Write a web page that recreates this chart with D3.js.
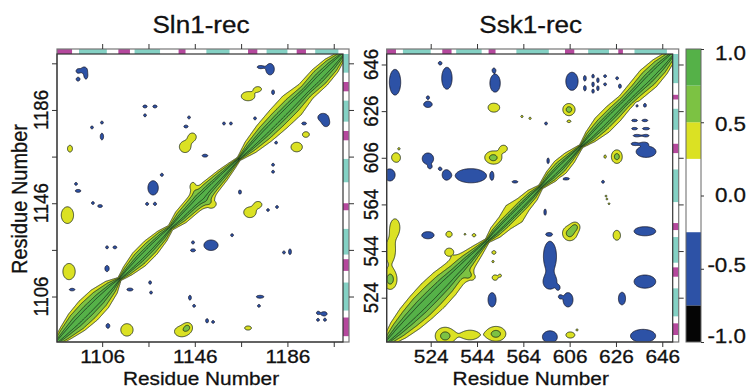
<!DOCTYPE html>
<html>
<head>
<meta charset="utf-8">
<script src="https://cdn.jsdelivr.net/npm/d3@7"></script>
<style>
  body { margin: 0; background: #fff; }
  svg { display: block; }
</style>
</head>
<body>
<svg id="chart" width="749" height="392"></svg>
<script>
// ---- data ----
// colour bands of the correlation scale
const bandEdges = [-1, -0.75, -0.25, 0.25, 0.5, 0.75, 1];
const bandColors = ["#050505", "#2d52a6", "#ffffff", "#dbe123", "#7cc243", "#55b148"];
const cbTicks = [1.0, 0.5, 0.0, -0.5, -1.0];

// Sln1 receiver
const slnTicks = [1106, 1126, 1146, 1166, 1186, 1206];
const slnTickLabels = ["1106", "", "1146", "", "1186", ""];
const slnStrands = [[1085, 1093], [1113, 1118], [1139, 1142], [1169, 1173], [1190, 1194]];
const slnHelices = [[1096, 1108], [1120, 1131], [1151, 1161], [1177, 1186], [1198, 1208]];
// half width (|i-j|) of the diagonal ridge at the 0.25 and 0.5 levels, along the diagonal
const slnDiagPos = [1086, 1090, 1095, 1100, 1105, 1110, 1113.5, 1117, 1122, 1127, 1132, 1135.5, 1140, 1146, 1152, 1158, 1162, 1165, 1170, 1176, 1182, 1188, 1194, 1200, 1205, 1210];
const slnDiagW25 = [2, 4.5, 7, 8, 7.5, 5, 1.2, 3.5, 5.5, 5.5, 4, 1.8, 4.5, 5.5, 5.5, 4, 2.5, 1.2, 4.5, 6.5, 7.5, 8, 6, 6.5, 5.5, 2.5];
const slnDiagW50 = [1.5, 3.5, 5.5, 6, 5.5, 3.5, 0.8, 2.5, 4, 4, 3, 1.2, 3.2, 4.2, 4.2, 3, 1.8, 0.8, 3, 4.5, 5, 5, 4, 5, 4.2, 1.8];
// off-diagonal patches: [residue i, residue j, spread i, spread j, peak correlation]
const slnPatches = [
  [1098.2, 1203.1, 1.3, 1.3, -0.42], [1095.6, 1202.7, 0.8, 0.8, -0.42], [1095.6, 1199.2, 0.8, 0.8, -0.42],
  [1099, 1200.5, 0.7, 1.2, -0.42], [1178.5, 1203.5, 1.8, 2.4, -0.42], [1174.2, 1204.4, 1.2, 0.6, -0.42],
  [1179.8, 1193.6, 0.6, 1.0, -0.42], [1124.5, 1187.5, 0.9, 0.6, -0.42], [1128.8, 1187.5, 0.9, 0.6, -0.42],
  [1124.5, 1183.7, 0.6, 0.6, -0.42], [1143.5, 1182.8, 0.6, 0.6, -0.42], [1142.2, 1178.9, 0.9, 0.6, -0.42],
  [1158.6, 1180.2, 0.6, 0.6, -0.42], [1161.6, 1180.2, 0.6, 0.6, -0.42], [1172, 1182.4, 0.6, 0.6, -0.42],
  [1193.2, 1180.2, 1.0, 0.6, -0.42], [1201.4, 1182.8, 2.2, 1.7, -0.42], [1202.7, 1180.2, 1.2, 1.2, -0.42],
  [1181.1, 1172, 0.6, 0.6, -0.42], [1101.6, 1178.5, 0.6, 0.6, -0.42], [1105.9, 1180.6, 0.6, 0.6, -0.42],
  [1105.9, 1174.6, 0.7, 1.4, -0.42], [1150.4, 1166.4, 1.2, 0.6, -0.42], [1131.8, 1158.2, 0.6, 0.6, -0.42],
  [1179.8, 1162.5, 0.6, 0.6, -0.42], [1179.8, 1159.5, 0.6, 0.6, -0.42], [1094.7, 1154.3, 0.6, 0.6, -0.42],
  [1095.6, 1151.3, 1.2, 0.6, -0.42], [1128, 1152.6, 2.2, 3, -0.42], [1165.5, 1150.8, 0.6, 0.9, -0.42],
  [1102, 1146.1, 0.6, 0.6, -0.42], [1105.1, 1144.8, 1.0, 0.6, -0.42], [1125.4, 1145.7, 0.6, 0.6, -0.42],
  [1128.8, 1145.7, 0.6, 0.6, -0.42], [1181.5, 1144.4, 0.6, 0.6, -0.42], [1177.6, 1143.1, 0.6, 0.6, -0.42],
  [1162.1, 1132.3, 0.6, 0.6, -0.42], [1153, 1128, 3, 2.2, -0.42], [1145.2, 1129.2, 0.6, 0.6, -0.42],
  [1145.2, 1125.8, 1.0, 0.6, -0.42], [1108.1, 1127.1, 0.6, 0.6, -0.42], [1111.5, 1127.1, 0.8, 0.6, -0.42],
  [1108.1, 1118, 0.9, 1.3, -0.42], [1184.5, 1124.9, 0.6, 0.6, -0.42], [1187.1, 1125.2, 0.6, 1.2, -0.42],
  [1093, 1109, 1.3, 0.6, -0.42], [1118, 1109, 1.3, 0.6, -0.42], [1126.7, 1112, 0.6, 0.7, -0.42],
  [1127.1, 1107.7, 0.6, 0.6, -0.42], [1143.9, 1105.5, 0.6, 1.0, -0.42], [1145.7, 1102, 0.6, 0.6, -0.42],
  [1174.2, 1105.9, 1.6, 0.6, -0.42], [1173.7, 1102, 0.6, 0.6, -0.42], [1151.3, 1095.6, 0.6, 0.9, -0.42],
  [1153.9, 1095.1, 0.6, 0.6, -0.42], [1108.5, 1093.4, 0.8, 1.0, -0.42], [1201.8, 1098.6, 1.3, 0.9, -0.42],
  [1199.2, 1096, 0.6, 0.6, -0.42], [1202.2, 1096, 0.6, 0.6, -0.42], [1199.2, 1099, 0.6, 0.6, -0.42],
  [1092.1, 1169.4, 1.1, 1.5, 0.4], [1169, 1191.9, 3, 2, 0.4], [1173.3, 1195, 1.5, 1, 0.38],
  [1141.8, 1170.2, 2.4, 2.4, 0.42], [1145, 1174.5, 1.6, 1.6, 0.4], [1190, 1170.1, 2.4, 2, 0.42],
  [1194, 1175.5, 1.5, 1.2, 0.4], [1145.2, 1153, 1.3, 2, 0.4], [1091, 1140.9, 2.6, 3.5, 0.42],
  [1169.8, 1142.1, 2.6, 2.2, 0.42], [1173.4, 1145.5, 1.5, 1.2, 0.4], [1153, 1145.7, 2.2, 1.8, 0.42],
  [1091.7, 1116.7, 2.6, 3.4, 0.42], [1116.7, 1091.7, 2.6, 2.6, 0.42], [1140.3, 1091, 3, 2.2, 0.42],
  [1143, 1093, 1.5, 1.5, 0.4], [1169, 1092.5, 1.5, 0.9, 0.4]
];

// Ssk1 receiver (numbering jumps after 564)
const sskTicks = [524, 544, 564, 584, 604, 624];
const sskTickLabels = ["524", "544", "564", "606", "626", "646"];
const sskStrands = [[504, 509], [529, 533], [549, 552], [582, 586], [605, 607]];
const sskHelices = [[512, 524], [535, 546], [561, 575], [592, 601], [612, 626]];
const sskDiagPos = [505, 510, 515, 520, 525, 530, 535, 540, 544, 548.5, 552, 556, 560, 564, 568, 571.5, 576, 580, 584, 589, 593, 598, 603, 608, 613, 618, 623, 629];
const sskDiagW25 = [3, 6.5, 8.5, 9.5, 10, 9.5, 8, 6, 4, 1.5, 4, 5, 7, 5, 4, 1.5, 4, 5, 4, 1.2, 4, 6, 6, 5, 6, 7, 6, 3];
const sskDiagW50 = [2, 4.5, 6, 7, 7, 6.5, 5, 4, 2.5, 1, 2.5, 3, 3, 3, 2.5, 1, 3, 3.5, 2.5, 0.8, 3, 4, 4, 3.5, 4, 5, 4.5, 2];
const sskPatches = [
  [508.6, 616.4, 2.4, 5.4, -0.42], [531, 618.1, 2.2, 4.6, -0.42], [528, 624.6, 0.6, 0.6, -0.42],
  [551.8, 616, 2.2, 3.8, -0.42], [551.3, 621.6, 0.5, 0.6, -0.42], [585, 616.8, 2.6, 3.8, -0.42],
  [590.6, 618.1, 0.5, 1.0, -0.42], [590.6, 613.8, 0.5, 1.0, -0.42], [594.1, 619, 0.5, 0.8, -0.42],
  [594.1, 615.5, 0.5, 1.0, -0.42], [594.1, 612.5, 0.5, 0.8, -0.42], [596.2, 617.3, 0.5, 1.0, -0.42],
  [596.2, 613.8, 0.5, 1.0, -0.42], [599.3, 619, 0.6, 0.6, -0.42], [599.3, 615.5, 0.6, 0.6, -0.42],
  [604.5, 618.1, 0.6, 0.6, -0.42], [605.7, 614.7, 0.6, 0.9, -0.42], [522.8, 606.9, 1.8, 1.3, -0.42],
  [522.8, 609.9, 0.6, 0.6, -0.42], [613, 606.5, 0.6, 0.8, -0.42], [616.5, 606.5, 0.6, 0.8, -0.42],
  [612, 600, 1.2, 0.5, -0.42], [616.5, 600, 1.2, 0.5, -0.42], [612, 596.5, 1.2, 0.5, -0.42],
  [617, 596.5, 1.5, 0.5, -0.42], [613, 593.5, 1.5, 0.5, -0.42], [617, 593.5, 1.2, 0.5, -0.42],
  [612, 590, 1.2, 0.5, -0.42], [616, 590, 1.2, 0.5, -0.42], [617, 586.6, 4.2, 2.4, -0.42],
  [522.8, 583.6, 2.4, 2.4, -0.42], [523.7, 580.1, 0.6, 0.6, -0.42], [528, 579.3, 0.6, 0.6, -0.42],
  [541.4, 576.3, 6.2, 2.8, -0.45], [530.6, 576.7, 1.3, 1.7, -0.42], [550.5, 576.3, 0.5, 1.3, -0.42],
  [506.4, 576.7, 2.2, 2.6, -0.42], [560.4, 573.7, 1.2, 0.5, -0.42], [574.7, 582.7, 0.5, 1.2, -0.42],
  [582.4, 575, 1.5, 0.5, -0.42], [573.8, 598.7, 0.6, 0.6, -0.42], [598.4, 573.7, 0.6, 0.6, -0.42],
  [573.4, 560.7, 0.5, 1.3, -0.42], [522.8, 550.8, 2.6, 1.5, -0.42], [575.1, 551.2, 1.0, 0.5, -0.42],
  [575.5, 541.7, 2.6, 6, -0.45], [575.5, 530.5, 2.5, 2.5, -0.42], [579, 528.3, 0.6, 0.8, -0.42],
  [579.9, 524.4, 0.6, 0.6, -0.42], [583.3, 523.1, 2.1, 3, -0.42], [550.5, 523.1, 1.7, 3, -0.42],
  [606.6, 523.6, 1.5, 2.6, -0.42], [616.5, 530.9, 4.3, 2.6, -0.45], [616.5, 552.5, 4.3, 1.8, -0.45],
  [575.5, 507.2, 3, 2.4, -0.45], [615.7, 507.6, 5, 2.6, -0.45],
  [551.3, 605.6, 2.5, 2, 0.42], [583.7, 604.7, 2, 2, 0.6], [583.7, 599.6, 0.8, 0.5, 0.4],
  [563.4, 601.7, 0.5, 0.5, 0.4], [566.9, 600.9, 0.5, 0.5, 0.4], [509, 584, 1.9, 2.1, 0.42],
  [510.3, 587.9, 0.4, 0.4, 0.4], [551, 584, 2.8, 2.2, 0.6], [555.5, 588, 1.5, 1.3, 0.42],
  [604.4, 584.5, 1.8, 2.2, 0.6], [599.3, 584.5, 0.5, 0.7, 0.4], [599.7, 567.6, 0.4, 0.4, 0.4],
  [508.6, 554.2, 2, 3.5, 0.42], [506.5, 544, 2.2, 4.5, 0.42], [506.5, 531.8, 2.2, 3.2, 0.6],
  [531.9, 551.2, 1.4, 1.3, 0.4], [542.7, 550.8, 0.8, 0.7, 0.4], [538.8, 551.2, 0.4, 0.4, 0.4],
  [551.3, 543.4, 0.9, 0.8, 0.4], [550.9, 539.5, 0.5, 0.5, 0.4], [551.8, 532.6, 1.3, 1.2, 0.4],
  [554, 533.5, 0.5, 0.5, 0.4], [584, 551.6, 2.4, 2.4, 0.6], [586.5, 554.5, 1.5, 1.5, 0.45],
  [604.4, 550.8, 1.6, 2.1, 0.42], [600.1, 566.3, 0.4, 0.4, 0.4], [601, 564.3, 0.4, 0.4, 0.4],
  [584.2, 508, 2, 1.3, 0.42], [587.2, 510.2, 0.4, 0.4, 0.4], [530.2, 507.6, 3.2, 2.8, 0.6],
  [541, 508, 3.5, 2, 0.42], [552.2, 508.5, 3.2, 2.4, 0.6], [532, 543.5, 2, 1.8, 0.4],
  [541.5, 533, 1.8, 1.6, 0.4]
];

// ---- layout ----
const FONT = "'Liberation Sans', Arial, Helvetica, sans-serif";
const SX = 1.12;           // the reference lettering is a little wide
const STEP = 0.25;         // sampling step of the map, residues
const plotTop = 49, stripH = 5, plotBottom = 342, plotW = 286, sideW = 6;
const sideShift = 4;       // side structure strip sits a few residues higher
const strandColor = "#b5489d", helixColor = "#84d1c4";

const panels = [
  { title: "Sln1-rec", left: 57, domain: [1086.5, 1210], ticks: slnTicks, tickLabels: slnTickLabels,
    strands: slnStrands, helices: slnHelices, diagPos: slnDiagPos, diagW25: slnDiagW25, diagW50: slnDiagW50,
    patches: slnPatches },
  { title: "Ssk1-rec", left: 386.7, domain: [505, 628.5], ticks: sskTicks, tickLabels: sskTickLabels,
    strands: sskStrands, helices: sskHelices, diagPos: sskDiagPos, diagW25: sskDiagW25, diagW50: sskDiagW50,
    patches: sskPatches }
];

const svg = d3.select("#chart").style("font-family", FONT);

function addText(g, str, x, y, size, anchor, rotate) {
  return g.append("text")
    .attr("transform", `translate(${x},${y}) scale(${SX},1)` + (rotate ? " rotate(-90)" : ""))
    .attr("text-anchor", anchor)
    .attr("font-size", size)
    .attr("fill", "#111")
    .attr("stroke", "#111").attr("stroke-width", 0.3)
    .text(str);
}

function diagValue(d, w25, w50) {
  if (d <= w50) return 1 - 0.5 * Math.pow(d / w50, 1.3);
  if (d <= w25) return 0.5 - 0.25 * (d - w50) / (w25 - w50);
  return Math.max(0, 0.25 - 0.25 * (d - w25) / 2);
}

function buildField(p) {
  const [d0, d1] = p.domain;
  const n = Math.round((d1 - d0) / STEP) + 1;
  const w25 = d3.scaleLinear(p.diagPos, p.diagW25).clamp(true);
  const w50 = d3.scaleLinear(p.diagPos, p.diagW50).clamp(true);
  const vals = new Float64Array(n * n);
  for (let j = 0; j < n; j++) {
    const ry = d0 + j * STEP;
    for (let i = 0; i < n; i++) {
      const rx = d0 + i * STEP, k = (rx + ry) / 2;
      vals[j * n + i] = diagValue(Math.abs(rx - ry), w25(k), Math.min(w50(k), w25(k) - 0.2));
    }
  }
  p.patches.forEach(([cx, cy, sx, sy, peak]) => {
    const i0 = Math.max(0, Math.floor((cx - 4 * sx - d0) / STEP));
    const i1 = Math.min(n - 1, Math.ceil((cx + 4 * sx - d0) / STEP));
    const j0 = Math.max(0, Math.floor((cy - 4 * sy - d0) / STEP));
    const j1 = Math.min(n - 1, Math.ceil((cy + 4 * sy - d0) / STEP));
    for (let j = j0; j <= j1; j++) {
      const dy = (d0 + j * STEP - cy) / sy;
      for (let i = i0; i <= i1; i++) {
        const dx = (d0 + i * STEP - cx) / sx;
        vals[j * n + i] += peak * Math.exp(-0.5 * (dx * dx + dy * dy));
      }
    }
  });
  return { vals, n };
}

panels.forEach((p, pi) => {
  const x = d3.scaleLinear(p.domain, [p.left, p.left + plotW]);
  const y = d3.scaleLinear(p.domain, [plotBottom, plotTop + stripH]);
  const g = svg.append("g");
  const clipId = "clip" + pi;
  svg.append("clipPath").attr("id", clipId).append("rect")
    .attr("x", p.left).attr("y", plotTop + stripH).attr("width", plotW).attr("height", plotBottom - plotTop - stripH);

  // contour map
  const { vals, n } = buildField(p);
  const d0 = p.domain[0];
  const proj = d3.geoTransform({
    point: function (px, py) { this.stream.point(x(d0 + (px - 0.5) * STEP), y(d0 + (py - 0.5) * STEP)); }
  });
  const path = d3.geoPath(proj);
  const neg = d3.contours().size([n, n]).thresholds([0.25, 0.75])(vals.map(v => -v));
  const pos = d3.contours().size([n, n]).thresholds([0.25, 0.5, 0.75, 0.9])(vals);
  const mg = g.append("g").attr("clip-path", `url(#${clipId})`);
  const fillFor = c => c.value >= 0.9 ? "none" : c.value >= 0.75 ? bandColors[5] : c.value >= 0.5 ? bandColors[4] : bandColors[3];
  mg.selectAll("path.neg").data(neg).join("path").attr("class", "neg")
    .attr("d", path).attr("fill", c => c.value >= 0.75 ? bandColors[0] : bandColors[1])
    .attr("stroke", "#16182a").attr("stroke-width", 0.8);
  mg.selectAll("path.pos").data(pos).join("path").attr("class", "pos")
    .attr("d", path).attr("fill", fillFor)
    .attr("stroke", "#162416").attr("stroke-width", 0.8);

  // secondary-structure strips
  const strip = g.append("g");
  const segs = [...p.strands.map(s => ({ s, c: strandColor })), ...p.helices.map(s => ({ s, c: helixColor }))];
  strip.selectAll("rect.top").data(segs).join("rect").attr("class", "top")
    .attr("x", d => Math.max(p.left, x(d.s[0]))).attr("y", plotTop)
    .attr("width", d => Math.min(p.left + plotW, x(d.s[1])) - Math.max(p.left, x(d.s[0])))
    .attr("height", stripH).attr("fill", d => d.c);
  strip.selectAll("rect.side").data(segs).join("rect").attr("class", "side")
    .attr("x", p.left + plotW)
    .attr("y", d => Math.max(plotTop + stripH, y(d.s[1] + sideShift)))
    .attr("width", sideW)
    .attr("height", d => Math.min(plotBottom, y(d.s[0] + sideShift)) - Math.max(plotTop + stripH, y(d.s[1] + sideShift)))
    .attr("fill", d => d.c);

  // frames
  g.append("rect").attr("x", p.left).attr("y", plotTop).attr("width", plotW + sideW).attr("height", plotBottom - plotTop)
    .attr("fill", "none").attr("stroke", "#777").attr("stroke-width", 1.2);
  g.append("rect").attr("x", p.left).attr("y", plotTop + stripH).attr("width", plotW).attr("height", plotBottom - plotTop - stripH)
    .attr("fill", "none").attr("stroke", "#333").attr("stroke-width", 1.2);

  // axes
  const fmt = (d, i) => p.tickLabels[i];
  const styleAxis = sel => {
    sel.select(".domain").remove();
    sel.selectAll(".tick line").attr("stroke", "#333").attr("stroke-width", 1);
  };
  const ax = g.append("g").attr("transform", `translate(0,${plotBottom})`)
    .call(d3.axisBottom(x).tickValues(p.ticks).tickFormat(fmt).tickSize(5).tickPadding(3)).call(styleAxis);
  ax.selectAll(".tick text").attr("font-size", 18.6).attr("font-family", FONT).attr("fill", "#111")
    .attr("stroke", "#111").attr("stroke-width", 0.3)
    .attr("transform", `scale(${SX},1)`).attr("dy", "0.71em").attr("y", 8);
  g.append("g").attr("transform", `translate(0,${plotTop})`)
    .call(d3.axisTop(x).tickValues(p.ticks).tickFormat("").tickSize(5)).call(styleAxis);
  g.append("g").attr("transform", `translate(${p.left + plotW + sideW},0)`)
    .call(d3.axisRight(y).tickValues(p.ticks).tickFormat("").tickSize(5)).call(styleAxis);
  g.append("g").attr("transform", `translate(${p.left},0)`)
    .call(d3.axisLeft(y).tickValues(p.ticks).tickFormat("").tickSize(5)).call(styleAxis);
  p.ticks.forEach((t, i) => {
    if (p.tickLabels[i]) addText(g, p.tickLabels[i], p.left - 9, y(t), 18.6, "middle", true);
  });

  addText(g, p.title, p.left + plotW / 2 + 1, 33, 23.3, "middle", false);
  addText(g, "Residue Number", p.left + plotW / 2 + 1, 385, 18.6, "middle", false);
  if (pi === 0) addText(g, "Residue Number", 27, 199, 20, "middle", true);
});

// colour bar
const cb = svg.append("g");
const cbY = d3.scaleLinear([-1, 1], [plotBottom, plotTop]);
const cbBands = bandColors.map((c, i) => ({ lo: bandEdges[i], hi: bandEdges[i + 1], c }));
cb.selectAll("rect.band").data(cbBands).join("rect").attr("class", "band")
  .attr("x", 686).attr("width", 15)
  .attr("y", d => cbY(d.hi)).attr("height", d => cbY(d.lo) - cbY(d.hi))
  .attr("fill", d => d.c);
cb.append("rect").attr("x", 686).attr("y", plotTop).attr("width", 15).attr("height", plotBottom - plotTop)
  .attr("fill", "none").attr("stroke", "#666").attr("stroke-width", 1);
cb.append("g").attr("transform", "translate(701,0)")
  .call(d3.axisRight(cbY).tickValues(cbTicks).tickFormat("").tickSize(3))
  .call(s => { s.select(".domain").remove(); s.selectAll(".tick line").attr("stroke", "#333"); });
const cbLabelY = d3.scaleLinear([-1, 1], [343, 60]);
cbTicks.forEach(t => addText(cb, d3.format(".1f")(t).replace("−", "-"), 746, cbLabelY(t), 20, "end", false));
</script>
</body>
</html>
